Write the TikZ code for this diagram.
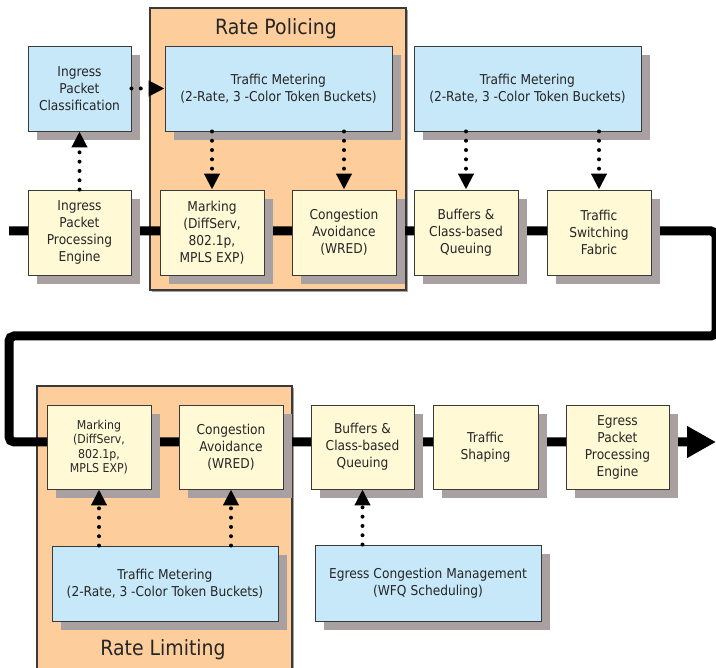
\documentclass[tikz,border=0pt]{standalone}
\usepackage{fontspec}
\setmainfont[FakeStretch=0.9]{DejaVu Sans}
\usetikzlibrary{arrows.meta}

\definecolor{boxblue}{HTML}{C6E8F8}
\definecolor{boxcream}{HTML}{FFF9D5}
\definecolor{zoneorange}{HTML}{FDCE9B}
\definecolor{shadowgray}{HTML}{A9A1A1}
\definecolor{edgegray}{HTML}{3A3A3A}
\definecolor{inkgray}{HTML}{262626}

\pgfdeclarelayer{zones}
\pgfdeclarelayer{flow}
\pgfsetlayers{zones,flow,main}

\tikzset{
  shadowed/.style={preaction={fill=shadowgray, draw=none,
      transform canvas={xshift=#1,yshift=-#1}}},
  stage/.style={shadowed=9pt, draw=edgegray, line width=0.9pt, fill=boxcream,
      minimum width=104pt, minimum height=85pt, inner sep=0pt, align=center,
      text=inkgray, font=\fontsize{13.6}{17}\selectfont},
  smallstage/.style={stage, font=\fontsize{12.2}{14.5}\selectfont},
  meter/.style={stage, fill=boxblue, minimum width=227pt},
  zone/.style={shadowed=2pt, draw=edgegray, line width=1.2pt, fill=zoneorange,
      inner sep=0pt},
  zonetitle/.style={text=inkgray, inner sep=0pt, font=\fontsize{21}{24}\selectfont},
  mainline/.style={line width=9pt, black, rounded corners=5pt},
  dotlink/.style={line width=4pt, line cap=round, dash pattern=on 0pt off 9.3pt,
      -{Triangle[length=16pt,width=15pt]}},
}

\begin{document}
\begin{tikzpicture}[x=1pt,y=-1pt]
\useasboundingbox (0,0) rectangle (716,668);

% ingress side
\node[meter, minimum width=103pt] (cls) at (79.5,88.5) {Ingress\\Packet\\Classification};
\node[stage, minimum width=103pt] (ippe) at (79.5,232.5) {Ingress\\Packet\\Processing\\Engine};

% rate policing stage
\node[meter] (tmA) at (278.5,88.5) {Traffic Metering\\(2-Rate, 3 -Color Token Buckets)};
\node[stage] (markA) at (212,232.5) {Marking\\(DiffServ,\\802.1p,\\MPLS EXP)};
\node[stage] (congA) at (344,232.5) {Congestion\\Avoidance\\(WRED)};

% queuing and switching
\node[meter] (tmB) at (527.5,88.5) {Traffic Metering\\(2-Rate, 3 -Color Token Buckets)};
\node[stage] (bufA) at (466,232.5) {Buffers \&\\Class-based\\Queuing};
\node[stage] (fabric) at (599,232.5) {Traffic\\Switching\\Fabric};

% rate limiting stage
\node[smallstage, minimum height=84pt] (markB) at (99,447) {Marking\\(DiffServ,\\802.1p,\\MPLS EXP)};
\node[stage, minimum height=84pt] (congB) at (231,447) {Congestion\\Avoidance\\(WRED)};
\node[meter, minimum width=226pt, minimum height=75pt] (tmC) at (165,583.5) {Traffic Metering\\(2-Rate, 3 -Color Token Buckets)};

% egress side
\node[stage, minimum width=103pt, minimum height=84pt] (bufB) at (362.5,447) {Buffers \&\\Class-based\\Queuing};
\node[stage, minimum width=105pt, minimum height=84pt] (shaping) at (485.5,447) {Traffic\\Shaping};
\node[stage, minimum width=103pt, minimum height=84pt] (eppe) at (617.5,447) {Egress\\Packet\\Processing\\Engine};
\node[meter, minimum width=226pt, minimum height=76pt] (ecm) at (428,583) {Egress Congestion Management\\(WFQ Scheduling)};

% shaded stage groups
\begin{pgfonlayer}{zones}
  \node[zone, minimum width=256pt, minimum height=282pt] (policing) at (278,149) {};
  \node[zone, minimum width=255pt, minimum height=300pt] (limiting) at (164.5,536) {};
\end{pgfonlayer}
\node[zonetitle] (policingtitle) at (276,29) {Rate Policing};
\node[zonetitle] (limitingtitle) at (163,650) {Rate Limiting};

% packet flow
\coordinate (inlet) at (9,231);
\coordinate (bendA) at (716,231);
\coordinate (bendB) at (716,336);
\coordinate (bendC) at (9,336);
\coordinate (bendD) at (9,442);
\coordinate (outlet) at (716,442);
\begin{pgfonlayer}{flow}
  \draw[mainline, -{Triangle[length=29pt,width=30pt]}]
    (inlet) -- (bendA) -- (bendB) -- (bendC) -- (bendD) -- (outlet);
\end{pgfonlayer}

% control links
\draw[dotlink] (ippe.north) -- (cls.south);
\draw[dotlink] (cls.east) -- (tmA.west |- cls.east);
\draw[dotlink] (tmA.south -| markA) -- (markA.north);
\draw[dotlink] (tmA.south -| congA) -- (congA.north);
\draw[dotlink] (tmB.south -| bufA) -- (bufA.north);
\draw[dotlink] (tmB.south -| fabric) -- (fabric.north);
\draw[dotlink] (tmC.north -| markB) -- (markB.south);
\draw[dotlink] (tmC.north -| congB) -- (congB.south);
\draw[dotlink] (ecm.north -| bufB) -- (bufB.south);
\end{tikzpicture}
\end{document}
